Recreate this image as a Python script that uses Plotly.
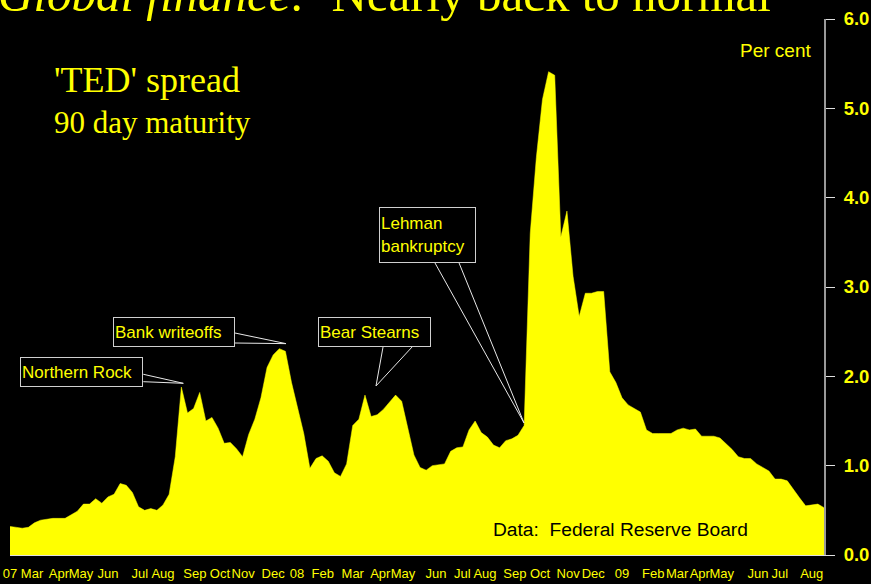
import plotly.graph_objects as go

# Weekly 'TED' spread, per cent
ted_spread = [
    0.32, 0.31, 0.30, 0.31, 0.36, 0.39, 0.40, 0.41, 0.41, 0.41,
    0.45, 0.49, 0.57, 0.57, 0.63, 0.58, 0.65, 0.68, 0.80, 0.78,
    0.70, 0.54, 0.50, 0.52, 0.50, 0.56, 0.68, 1.10, 1.88, 1.59,
    1.64, 1.82, 1.50, 1.54, 1.42, 1.25, 1.26, 1.19, 1.10, 1.35,
    1.52, 1.76, 2.10, 2.24, 2.31, 2.28, 1.93, 1.63, 1.36, 0.97,
    1.08, 1.11, 1.05, 0.92, 0.88, 1.02, 1.45, 1.52, 1.79, 1.55,
    1.57, 1.63, 1.71, 1.79, 1.72, 1.40, 1.12, 0.98, 0.95, 1.00,
    1.01, 1.02, 1.16, 1.20, 1.21, 1.40, 1.50, 1.37, 1.32, 1.23,
    1.20, 1.28, 1.30, 1.34, 1.45, 3.60, 4.45, 5.10, 5.41, 5.37,
    3.56, 3.85, 3.12, 2.67, 2.93, 2.93, 2.95, 2.95, 2.05, 1.93,
    1.76, 1.68, 1.64, 1.60, 1.40, 1.36, 1.36, 1.36, 1.36, 1.40,
    1.42, 1.40, 1.41, 1.33, 1.33, 1.33, 1.31, 1.25, 1.18, 1.10,
    1.08, 1.08, 1.02, 0.98, 0.94, 0.85, 0.85, 0.83, 0.73, 0.64,
    0.55, 0.56, 0.57, 0.53,
]
weeks = list(range(len(ted_spread)))

month_labels = ["07", "Mar", "Apr", "May", "Jun", "Jul", "Aug", "Sep", "Oct", "Nov", "Dec",
                "08", "Feb", "Mar", "Apr", "May", "Jun", "Jul", "Aug", "Sep", "Oct", "Nov", "Dec",
                "09", "Feb", "Mar", "Apr", "May", "Jun", "Jul", "Aug"]
month_pos = [0.0, 3.6, 8.0, 11.6, 16.0, 21.2, 25.0, 30.2, 34.3, 38.1, 43.0,
             46.9, 51.1, 56.0, 60.5, 64.2, 69.6, 73.9, 77.6, 82.5, 86.6, 91.2, 95.3,
             100.0, 105.1, 109.0, 112.7, 116.3, 122.2, 125.8, 131.0]

y_ticks = [0, 1, 2, 3, 4, 5, 6]

YEL = "#FFFF00"
SANS = "Liberation Sans, Arial, sans-serif"
SERIF = "Liberation Serif, Times New Roman, serif"

fig = go.Figure()
fig.add_trace(go.Scatter(
    x=weeks, y=ted_spread, mode="lines", fill="tozeroy",
    fillcolor=YEL, line=dict(color=YEL, width=0.5), hoverinfo="skip",
))

# callout wedges (data coords)
wedges = [
    [(21.78, 2.023), (28.32, 1.922), (21.78, 1.940)],
    [(36.76, 2.485), (45.10, 2.366), (36.76, 2.373)],
    [(60.95, 2.328), (59.80, 1.892), (65.69, 2.328)],
    [(69.44, 3.269), (83.99, 1.478), (73.37, 3.269)],
]
for w in wedges:
    p = "M {} {} L {} {} L {} {}".format(w[0][0], w[0][1], w[1][0], w[1][1], w[2][0], w[2][1])
    fig.add_shape(type="path", path=p, xref="x", yref="y",
                  line=dict(color="#e8e8e8", width=1), fillcolor="black", layer="above")

boxes = [
    ("Northern Rock", 0.0878, 0.3414, 119, 26),
    ("Bank writeoffs", 0.2015, 0.416, 118, 26),
    ("Bear Stearns", 0.4478, 0.416, 109, 26),
    ("Lehman<br>bankruptcy", 0.5129, 0.597, 93, 52),
]
for text, bx, by, w, h in boxes:
    fig.add_annotation(text=text, x=bx, y=by, xref="paper", yref="paper",
                       xanchor="center", yanchor="middle", showarrow=False,
                       width=w, height=h, align="left", valign="middle",
                       bgcolor="black", bordercolor="#d0d0d0", borderwidth=1, borderpad=1,
                       font=dict(family=SANS, size=17, color=YEL))

fig.add_annotation(text="<i>Global finance:</i>  Nearly back to normal", x=-0.017, y=1.045,
                   xref="paper", yref="paper", xanchor="left", yanchor="middle",
                   showarrow=False, font=dict(family=SERIF, size=49, color=YEL))
fig.add_annotation(text="'TED' spread", x=0.052, y=0.886, xref="paper", yref="paper",
                   xanchor="left", yanchor="middle", showarrow=False,
                   font=dict(family=SERIF, size=36, color=YEL))
fig.add_annotation(text="90 day maturity", x=0.052, y=0.807, xref="paper", yref="paper",
                   xanchor="left", yanchor="middle", showarrow=False,
                   font=dict(family=SERIF, size=31, color=YEL))
fig.add_annotation(text="Per cent", x=0.9865, y=0.942, xref="paper", yref="paper",
                   xanchor="right", yanchor="middle", showarrow=False,
                   font=dict(family=SANS, size=19, color=YEL))
fig.add_annotation(text="Data:  Federal Reserve Board", x=0.591, y=0.0485, xref="paper", yref="paper",
                   xanchor="left", yanchor="middle", showarrow=False,
                   font=dict(family=SANS, size=19.2, color="black"))

fig.update_layout(
    width=871, height=584,
    margin=dict(l=10, r=47, t=19, b=29, autoexpand=False),
    paper_bgcolor="black", plot_bgcolor="black",
    showlegend=False,
    xaxis=dict(range=[0, len(ted_spread) - 1], tickvals=month_pos, ticktext=month_labels,
               showgrid=False, zeroline=False, showline=True, linecolor="#e0e0e0", linewidth=1,
               ticks="", tickangle=0, automargin=False, ticklabelstandoff=6,
               tickfont=dict(family=SANS, size=13, color=YEL)),
    yaxis=dict(range=[0, 6], side="right", tickvals=y_ticks, tickformat=".1f",
               showgrid=False, zeroline=False, showline=True, linecolor="#9a9a9a", linewidth=2,
               ticks="outside", ticklen=9, tickwidth=1, tickcolor="#e0e0e0",
               ticklabelstandoff=5, automargin=False,
               tickfont=dict(family=SANS, size=18.5, color=YEL, weight="bold")),
)

fig.write_html(
    "out.html",
    config={"displayModeBar": False},
    post_script="document.body.style.margin='0';document.body.style.overflow='hidden';",
)
